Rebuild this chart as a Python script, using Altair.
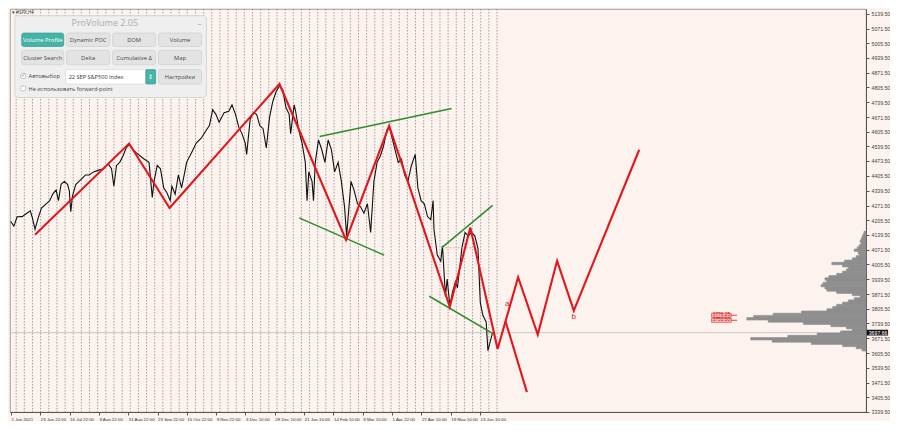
import altair as alt
import pandas as pd

# ---------------- data ----------------
price_t = [-0.1, 1.0, 2.1, 3.8, 5.4, 6.6, 7.3, 8.2, 9.3, 10.4, 12.1, 13.2, 14.3, 15.4, 16.2, 17.1, 18.2, 19.3, 19.9,
           20.4, 21.0, 22.1, 23.2, 24.3, 25.4, 26.6, 28.2, 29.9, 31.6, 33.2, 34.3, 35.1, 36.0, 37.1, 38.2, 39.3, 40.4,
           41.6, 42.7, 45.4, 47.1, 48.2, 48.8, 49.9, 51.0, 52.1, 53.2, 54.3, 54.9, 56.0, 57.1, 58.2, 59.3, 59.9, 61.6,
           63.2, 64.9, 66.6, 67.7, 68.8, 69.9, 71.0, 72.7, 74.3, 75.4, 76.6, 77.7, 78.8, 79.9, 80.4, 81.6, 82.7, 83.8,
           84.9, 86.0, 87.1, 88.2, 89.3, 90.4, 91.6, 92.7, 93.8, 94.9, 95.4, 96.6, 97.1, 98.2, 99.3, 100.4, 101.0,
           101.6, 102.7, 103.2, 103.8, 104.9, 106.0, 107.1, 108.2, 109.3, 110.4, 111.6, 112.7, 113.8, 114.5, 116.0,
           117.1, 118.2, 119.3, 120.4, 121.6, 122.7, 123.8, 124.9, 126.0, 127.1, 128.2, 129.1, 129.9, 131.0, 132.1,
           133.2, 134.3, 135.4, 136.6, 137.9, 138.8, 139.9, 141.0, 142.1, 143.2, 144.0, 144.3, 145.4, 146.6, 147.2,
           148.2, 148.8, 149.7, 150.6, 151.6, 152.3, 153.8, 154.9, 156.0, 157.1, 158.2, 159.3, 160.1, 161.0, 162.1,
           162.7, 163.8, 164.3]
price_v = [4200, 4179, 4221, 4222, 4237, 4248, 4216, 4165, 4216, 4260, 4281, 4294, 4325, 4342, 4294, 4368, 4381, 4368, 4338,
           4244, 4316, 4367, 4381, 4395, 4410, 4410, 4424, 4432, 4438, 4460, 4438, 4359, 4453, 4467, 4496, 4532, 4547,
           4525, 4511, 4482, 4467, 4309, 4381, 4453, 4438, 4352, 4330, 4294, 4359, 4323, 4410, 4352, 4424, 4467, 4511,
           4554, 4576, 4612, 4633, 4705, 4684, 4648, 4691, 4698, 4727, 4684, 4626, 4597, 4554, 4503, 4662, 4691, 4684,
           4633, 4619, 4532, 4670, 4741, 4785, 4812, 4795, 4715, 4684, 4597, 4727, 4698, 4612, 4554, 4467, 4294,
           4424, 4381, 4294, 4467, 4568, 4525, 4467, 4568, 4525, 4424, 4467, 4381, 4265, 4135, 4381,
           4338, 4280, 4265, 4237, 4280, 4150, 4381, 4467, 4496, 4540, 4612, 4628, 4583, 4525, 4467,
           4482, 4410, 4381, 4453, 4503, 4352, 4294, 4280, 4222, 4208, 4294, 4165, 4049, 4020, 4090,
           3862, 3940, 3820, 3880, 3927, 3900, 4078, 4150, 4136, 4150, 4136, 4078, 3833, 3775, 3746,
           3616, 3674, 3698]

zig_t = [8.2, 40.3, 54.1, 91.6, 114.3, 129.0, 149.7, 156.7, 166.0, 173.0, 179.7, 186.3, 192.0, 214.3]
zig_v = [4140, 4552, 4261, 4821, 4117, 4632, 3814, 4173, 3624, 3948, 3689, 4022, 3797, 4524]
alt_t = [168.7, 176.0]
alt_v = [3749, 3429]

green_t1 = [105.3, 98.3, 147.0, 142.7]
green_v1 = [4584, 4216, 4082, 3862]
green_t2 = [150.3, 127.3, 164.3, 165.0]
green_v2 = [4710, 4048, 4273, 3689]

prof_price = [4150, 4140, 4130, 4120, 4110, 4100, 4090, 4080, 4070, 4060, 4050, 4040, 4030, 4020, 4010, 4000,
              3990, 3980, 3970, 3960, 3950, 3940, 3930, 3920, 3910, 3900, 3890, 3880, 3870, 3860, 3850, 3840,
              3830, 3820, 3810, 3800, 3790, 3780, 3770, 3760, 3750, 3740, 3730, 3720, 3710, 3700, 3690, 3680,
              3670, 3660, 3650, 3640, 3630, 3620]
prof_vol = [2, 3, 4, 5, 6, 5, 7, 9, 12, 8, 7, 10, 14, 22, 35, 24,
            18, 20, 24, 30, 38, 42, 40, 44, 46, 42, 40, 30, 14, 6, 12, 18,
            24, 30, 34, 40, 66, 95, 115, 122, 100, 64, 36, 20, 14, 26, 50, 80,
            118, 96, 56, 24, 10, 4]

current_price = 3697.66
level_prices = [3776.25, 3753.50]
wave_t = [169.3, 192.0]
wave_v = [3827, 3767]
wave_txt = ["a", "b"]
pink_t = [148.2, 158.2]
pink_v = [4081, 4081]

x_labels = ["1 Jun 2021", "23 Jun 22:00", "16 Jul 22:00", "9 Aug 22:00", "31 Aug 22:00", "23 Sep 22:00",
            "15 Oct 22:00", "9 Nov 22:00", "3 Dec 10:00", "28 Dec 10:00", "21 Jan 10:00", "14 Feb 10:00",
            "9 Mar 10:00", "1 Apr 22:00", "27 Apr 10:00", "19 May 10:00", "13 Jun 10:00"]
y_ticks = [5139.5, 5071.5, 5005.5, 4939.5, 4871.5, 4805.5, 4739.5, 4671.5, 4605.5, 4539.5, 4473.5, 4405.5,
           4339.5, 4271.5, 4205.5, 4139.5, 4071.5, 4005.5, 3939.5, 3871.5, 3805.5, 3739.5, 3671.5, 3605.5,
           3539.5, 3471.5, 3405.5, 3339.5]

# ---------------- layout ----------------
W, H = 856, 403
T0, T1 = -0.33, 291.67
BG = "#fcf3ee"
FONT = "Liberation Sans"
xs = alt.Scale(domain=[T0, T1], nice=False, zero=False)
ys = alt.Scale(domain=[3339, 5160], nice=False, zero=False)

x_ticks = [10 * i for i in range(len(x_labels))]
label_arr = "[" + ",".join("'%s'" % s for s in x_labels) + "]"

XAX = alt.Axis(values=x_ticks, labelExpr=label_arr + "[round(datum.value/10)]", labelAlign="left",
               labelFontSize=4.4, labelFont=FONT, labelColor="#333", tickSize=3, tickColor="#555",
               domainColor="#555", labelPadding=2, grid=False, title=None, labelOverlap=False, labelFlush=False)
YAX = alt.Axis(orient="right", values=y_ticks, format=".2f", labelFontSize=5.2, labelFont=FONT,
               labelColor="#444", tickSize=3, tickColor="#555", domainColor="#555", labelPadding=2,
               grid=False, title=None, labelOverlap=False)

X = lambda f: alt.X(f, type="quantitative", scale=xs, axis=XAX, title=None)
Y = lambda f: alt.Y(f, type="quantitative", scale=ys, axis=YAX, title=None)

# vertical dotted grid (period separators) up to the last bar
grid_df = pd.DataFrame({"t": [1.78 + 2.78 * i for i in range(60)]})
grid = alt.Chart(grid_df).mark_rule(color="#858585", strokeWidth=0.75, strokeDash=[1.5, 1.5]).encode(
    x=X("t"), y=alt.value(0), y2=alt.value(H))

cur_df = pd.DataFrame({"v": [current_price]})
cur_line = alt.Chart(cur_df).mark_rule(color="#bdbdbd", strokeWidth=0.8).encode(
    y=Y("v"), x=alt.value(0), x2=alt.value(W))

prof_df = pd.DataFrame({"price": prof_price, "vol": prof_vol})
profile = alt.Chart(prof_df).transform_calculate(
    tl=f"{T1} - datum.vol/3", p0="datum.price - 5.5", p1="datum.price + 5.5"
).mark_rect(fill="#8e8e8e", stroke="#8e8e8e", strokeWidth=0.6).encode(
    x=X("tl"), x2=alt.value(W), y=Y("p0"), y2="p1:Q")

price_df = pd.DataFrame({"t": price_t, "v": price_v})
price = alt.Chart(price_df).mark_line(color="#111", strokeWidth=1.1).encode(x=X("t"), y=Y("v"))

g_rows = []
for i in range(len(green_t1)):
    g_rows += [{"s": i, "t": green_t1[i], "v": green_v1[i]}, {"s": i, "t": green_t2[i], "v": green_v2[i]}]
green = alt.Chart(pd.DataFrame(g_rows)).mark_line(color="#2e8b2e", strokeWidth=1.5).encode(
    x=X("t"), y=Y("v"), detail="s:N")

z_rows = [{"s": 0, "o": i, "t": a, "v": b} for i, (a, b) in enumerate(zip(zig_t, zig_v))]
z_rows += [{"s": 1, "o": i, "t": a, "v": b} for i, (a, b) in enumerate(zip(alt_t, alt_v))]
zig = alt.Chart(pd.DataFrame(z_rows)).mark_line(color="#e3161d", strokeWidth=2.1).encode(
    x=X("t"), y=Y("v"), detail="s:N", order="o:Q")

pink = alt.Chart(pd.DataFrame({"t": pink_t, "v": pink_v})).mark_line(
    color="#e88080", strokeWidth=0.8, strokeDash=[2, 2]).encode(x=X("t"), y=Y("v"))

waves = alt.Chart(pd.DataFrame({"t": wave_t, "v": wave_v, "s": wave_txt})).mark_text(
    color="#e3161d", fontSize=8, font=FONT).encode(x=X("t"), y=Y("v"), text="s:N")

lvl_df = pd.DataFrame({"v": level_prices, "lab": ["%.2f" % p for p in level_prices]})
lvl_box = alt.Chart(lvl_df).transform_calculate(a="datum.v - 9", b="datum.v + 9", x0="239", x1="245.7").mark_rect(
    fill="#f7c6c6", stroke="#e3161d", strokeWidth=0.6).encode(x=X("x0"), x2="x1:Q", y=Y("a"), y2="b:Q")
lvl_rule = alt.Chart(lvl_df).transform_calculate(x0="245.7", x1="247.7").mark_rule(
    color="#e3161d", strokeWidth=0.8).encode(x=X("x0"), x2="x1:Q", y=Y("v"))
lvl_txt = alt.Chart(lvl_df).transform_calculate(xm="242.35").mark_text(
    color="#d01010", fontSize=4.8, font=FONT).encode(x=X("xm"), y=Y("v"), text="lab:N")

cp_df = pd.DataFrame({"v": [current_price], "lab": ["%.2f" % current_price]})
cp_box = alt.Chart(cp_df).transform_calculate(a="datum.v - 13", b="datum.v + 13", x0="292.0", x1="299.2").mark_rect(
    color="#111").encode(x=X("x0"), x2="x1:Q", y=Y("a"), y2="b:Q")
cp_txt = alt.Chart(cp_df).transform_calculate(xm="292.6").mark_text(
    color="white", fontSize=5.2, font=FONT, align="left").encode(x=X("xm"), y=Y("v"), text="lab:N")

# ---------------- ProVolume widget (UI overlay) ----------------
sx, sy = W / 876, H / 419
px = lambda x: (x - 1) * sx
py = lambda y: y * sy
one = pd.DataFrame({"k": [0]})


def box(x0, y0, x1, y1, fill, stroke="#cfcfcf", r=2, sw=0.7):
    return alt.Chart(one).mark_rect(fill=fill, stroke=stroke, strokeWidth=sw, cornerRadius=r).encode(
        x=alt.value(px(x0)), x2=alt.value(px(x1)), y=alt.value(py(y0)), y2=alt.value(py(y1)))


def label(x, y, txt, size=6, color="#444", align="center", font="Open Sans"):
    return alt.Chart(one).mark_text(text=txt, fontSize=size, color=color, align=align,
                                    baseline="middle", font=font).encode(
        x=alt.value(px(x)), y=alt.value(py(y)))


ui = [box(6, 7, 202, 92, "#efefef", "#cdcdcd", 3, 0.8),
      label(98, 15, "ProVolume 2.05", 9, "#ababab"),
      label(195, 16, "–", 8, "#999")]
rows = [(25, 39, [("Volume Profile", 13, 56), ("Dynamic POC", 59, 103), ("DOM", 106, 150), ("Volume", 153, 197)]),
        (43, 58, [("Cluster Search", 13, 56), ("Delta", 59, 103), ("Cumulative Δ", 106, 150), ("Map", 153, 197)])]
for y0, y1, btns in rows:
    for name, x0, x1 in btns:
        active = name == "Volume Profile"
        ui.append(box(x0, y0, x1, y1, "#46b3a8" if active else "#e3e3e3", "#3a9d93" if active else "#cfcfcf"))
        ui.append(label((x0 + x1) / 2, (y0 + y1) / 2 + 0.5, name, 5.8, "white" if active else "#444"))
ui += [box(12, 67, 17, 72, "white", "#aaa", 1),
       label(14.5, 69, "✓", 6, "#46b3a8"),
       label(20, 70, "Автовыбор", 5.8, "#444", "left"),
       box(58, 63, 140, 78, "white", "#d5d5d5", 1),
       label(61, 71, "22 SEP S&P500 Index", 5.6, "#333", "left"),
       box(140, 63, 150, 78, "#46b3a8", "#3a9d93", 1),
       label(145, 70.5, "⇕", 6, "white"),
       box(153, 63, 197, 78, "#e3e3e3"),
       label(175, 71, "Настройки", 5.8, "#444"),
       box(12, 80, 17, 85, "white", "#aaa", 1),
       label(20, 83, "Не использовать forward-point", 5.6, "#444", "left"),
       label(3, 4, "▾ #SPX,H4", 4.5, "#333", "left")]

chart = alt.layer(grid, cur_line, profile, price, green, pink, zig, waves, lvl_box, lvl_rule, lvl_txt,
                  cp_box, cp_txt, *ui).properties(
    width=W, height=H, background=BG, padding=0
).configure_view(fill=BG, stroke="#8a8a8a", strokeWidth=0.8)

chart.save("out.html", embed_options={"renderer": "svg", "actions": False})
